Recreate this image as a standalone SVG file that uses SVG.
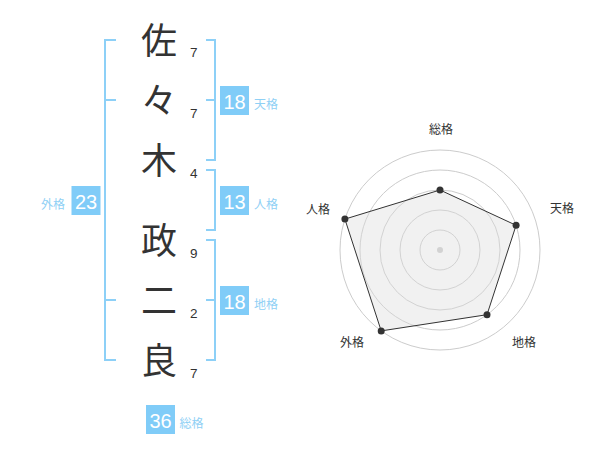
<svg xmlns="http://www.w3.org/2000/svg" width="600" height="470" viewBox="0 0 600 470">
<style>
.ch{font-family:"Noto Sans CJK JP","Noto Sans CJK SC",sans-serif;font-size:36px;fill:#333;text-anchor:middle}
.st{font-family:"Liberation Sans",Arial,sans-serif;font-size:13.5px;fill:#333}
.br{fill:none;stroke:#8dd0f7;stroke-width:2}
.bx{fill:#80ccf8}
.bn{font-family:"Liberation Sans",Arial,sans-serif;font-size:20px;fill:#fff;text-anchor:middle}
.bl{font-family:"Noto Sans CJK JP","Noto Sans CJK SC",sans-serif;font-size:12px;fill:#8fd0f5}
.rl{font-family:"Noto Sans CJK JP","Noto Sans CJK SC",sans-serif;font-size:12px;fill:#333;text-anchor:middle}
.ring{fill:none;stroke:#cccccc;stroke-width:1}
.dot{fill:#333}
</style>
<rect width="600" height="470" fill="#fff"/>
<g id="name">
<text class="ch" x="159" y="54">佐</text>
<text class="ch" x="159" y="114">々</text>
<text class="ch" x="159" y="174">木</text>
<text class="ch" x="159" y="254">政</text>
<text class="ch" x="159" y="314">二</text>
<text class="ch" x="159" y="374">良</text>
</g>
<g id="strokes">
<text class="st" x="190" y="57">7</text>
<text class="st" x="190" y="118">7</text>
<text class="st" x="190" y="178">4</text>
<text class="st" x="190" y="258">9</text>
<text class="st" x="190" y="318">2</text>
<text class="st" x="190" y="378">7</text>
</g>
<g id="connectors">
<path class="br" d="M116,40 H105 V360 H116 M105,100 H116 M105,300 H116"/>
<path class="br" d="M206,40 H215 V160 H206 M206,100 H215"/>
<path class="br" d="M206,170 H215 V230 H206"/>
<path class="br" d="M206,240 H215 V360 H206 M206,300 H215"/>
</g>
<g id="tenkaku">
<rect class="bx" x="220" y="86" width="29" height="29"/>
<text class="bn" x="234.5" y="109">18</text>
<text class="bl" x="254" y="108.5">天格</text>
</g>
<g id="jinkaku">
<rect class="bx" x="220" y="186" width="29" height="29"/>
<text class="bn" x="234.5" y="209">13</text>
<text class="bl" x="254" y="208.5">人格</text>
</g>
<g id="chikaku">
<rect class="bx" x="220" y="286" width="29" height="29"/>
<text class="bn" x="234.5" y="309">18</text>
<text class="bl" x="254" y="308.5">地格</text>
</g>
<g id="gaikaku">
<rect class="bx" x="71.5" y="186" width="29" height="29"/>
<text class="bn" x="86" y="209">23</text>
<text class="bl" x="41" y="208.5">外格</text>
</g>
<g id="soukaku">
<rect class="bx" x="146" y="405" width="29" height="29"/>
<text class="bn" x="160.5" y="428">36</text>
<text class="bl" x="179.5" y="428">総格</text>
</g>
<g id="radar">
<circle class="ring" cx="440" cy="250" r="20"/>
<circle class="ring" cx="440" cy="250" r="40"/>
<circle class="ring" cx="440" cy="250" r="60"/>
<circle class="ring" cx="440" cy="250" r="80"/>
<circle class="ring" cx="440" cy="250" r="100"/>
<circle cx="440" cy="250" r="3" fill="#cccccc"/>
<polygon points="440,190 516.1,225.3 487,314.7 381.2,330.9 344.9,219.1" fill="#dddddd" fill-opacity="0.4" stroke="#333" stroke-width="1"/>
<circle class="dot" cx="440" cy="190" r="3.5"/>
<circle class="dot" cx="516.1" cy="225.3" r="3.5"/>
<circle class="dot" cx="487" cy="314.7" r="3.5"/>
<circle class="dot" cx="381.2" cy="330.9" r="3.5"/>
<circle class="dot" cx="344.9" cy="219.1" r="3.5"/>
<text class="rl" x="441" y="134">総格</text>
<text class="rl" x="562" y="212.5">天格</text>
<text class="rl" x="524" y="346.5">地格</text>
<text class="rl" x="352" y="346.5">外格</text>
<text class="rl" x="318" y="213.5">人格</text>
</g>
</svg>
